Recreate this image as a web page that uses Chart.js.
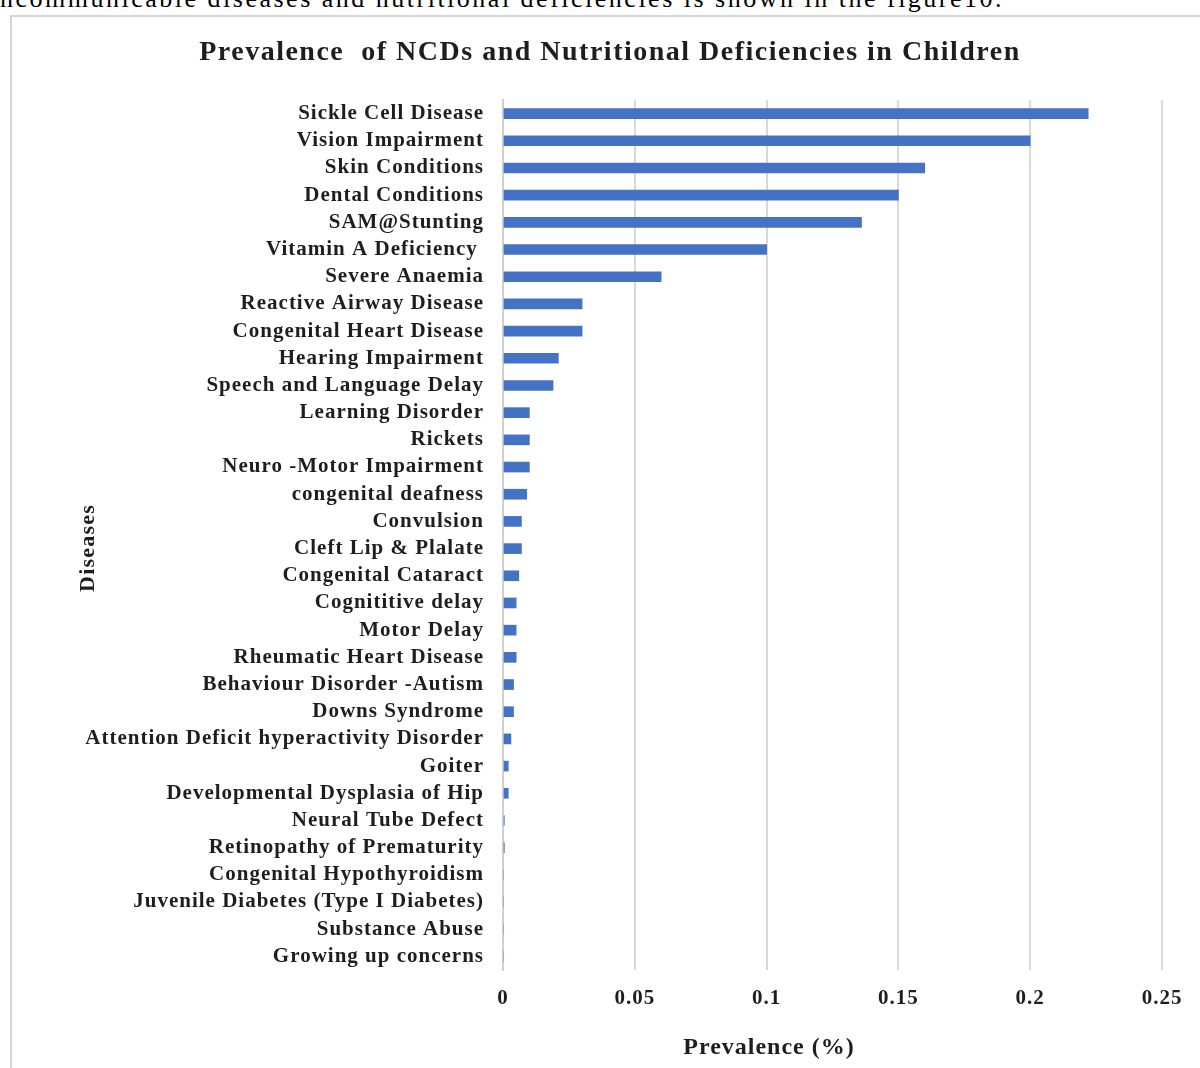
<!DOCTYPE html>
<html>
<head>
<meta charset="utf-8">
<script src="https://cdn.jsdelivr.net/npm/chart.js@4"></script>
<style>
  html, body { margin: 0; padding: 0; background: #fff; overflow: hidden; }
  .lead {
    position: absolute; left: 0; top: -16px; white-space: nowrap;
    font-family: "Liberation Serif", serif; font-size: 26px; color: #000;
    letter-spacing: 2.5px;
  }
  .frame {
    position: absolute; left: 10px; top: 15px; width: 1200px; height: 1060px;
    border-left: 2px solid #d6d6d6; border-top: 2px solid #d6d6d6;
  }
  .wrap { position: absolute; left: 0; top: 0; width: 1200px; height: 1068px; }
</style>
</head>
<body>
<div class="lead">ncommunicable diseases and nutritional deficiencies is shown in the figure10.</div>
<div class="frame"></div>
<div class="wrap"><canvas id="ncdChart"></canvas></div>
<script>
// Diseases, top to bottom
const diseases = [
  "Sickle Cell Disease", "Vision Impairment", "Skin Conditions", "Dental Conditions",
  "SAM@Stunting", "Vitamin A Deficiency ", "Severe Anaemia", "Reactive Airway Disease",
  "Congenital Heart Disease", "Hearing Impairment", "Speech and Language Delay",
  "Learning Disorder", "Rickets", "Neuro -Motor Impairment", "congenital deafness",
  "Convulsion", "Cleft Lip & Plalate", "Congenital Cataract", "Cognititive delay",
  "Motor Delay", "Rheumatic Heart Disease", "Behaviour Disorder -Autism", "Downs Syndrome",
  "Attention Deficit hyperactivity Disorder", "Goiter", "Developmental Dysplasia of Hip",
  "Neural Tube Defect", "Retinopathy of Prematurity", "Congenital Hypothyroidism",
  "Juvenile Diabetes (Type I Diabetes)", "Substance Abuse", "Growing up concerns"
];
const prevalence = [
  0.222, 0.200, 0.160, 0.150,
  0.136, 0.100, 0.060, 0.030,
  0.030, 0.021, 0.019,
  0.010, 0.010, 0.010, 0.009,
  0.007, 0.007, 0.006, 0.005,
  0.005, 0.005, 0.004, 0.004,
  0.003, 0.002, 0.002,
  0.0005, 0.0005, 0,
  0, 0, 0
];
const xTicks = [0, 0.05, 0.1, 0.15, 0.2, 0.25];

const chartTitle = "Prevalence  of NCDs and Nutritional Deficiencies in Children";
const xTitle = "Prevalence (%)";
const yTitle = "Diseases";

const serif = "'Liberation Serif', 'Times New Roman', serif";

// slightly wide lettering for the axis labels
const wideText = {
  id: "wideText",
  beforeDraw(chart) {
    chart.ctx.letterSpacing = "1px";
  }
};

// titles are drawn by hand so they can sit off-centre
const figureText = {
  id: "figureText",
  afterDraw(chart) {
    const ctx = chart.ctx;
    ctx.save();
    ctx.fillStyle = "#1e1e1e";
    ctx.textAlign = "center";
    ctx.textBaseline = "middle";
    ctx.letterSpacing = "1.5px";
    ctx.font = "bold 28px " + serif;
    ctx.fillText(chartTitle, 610, 53);
    ctx.letterSpacing = "1px";
    ctx.font = "bold 24px " + serif;
    ctx.fillText(xTitle, 769, 1048);
    ctx.translate(88, 548);
    ctx.rotate(-Math.PI / 2);
    ctx.letterSpacing = "1.2px";
    ctx.font = "bold 22px " + serif;
    ctx.fillText(yTitle, 0, 0);
    ctx.restore();
  }
};

new Chart(document.getElementById("ncdChart"), {
  type: "bar",
  data: {
    labels: diseases,
    datasets: [{
      data: prevalence,
      backgroundColor: "#4472C4",
      barThickness: 10,
      borderWidth: 0
    }]
  },
  options: {
    indexAxis: "y",
    responsive: true,
    maintainAspectRatio: false,
    animation: false,
    layout: { padding: { top: 100, right: 38, left: 0, bottom: 0 } },
    plugins: {
      legend: { display: false },
      tooltip: { enabled: false }
    },
    scales: {
      x: {
        min: 0,
        max: 0.25,
        afterBuildTicks: (scale) => {
          scale.ticks = xTicks.map((v) => ({ value: v }));
        },
        afterFit: (scale) => { scale.height = 98; },
        grid: { color: "#d9d9d9", lineWidth: 2, drawTicks: false },
        border: { display: false },
        ticks: {
          padding: 16,
          color: "#1e1e1e",
          font: { family: serif, size: 21, weight: "bold" },
          callback: (v) => String(v)
        }
      },
      y: {
        afterFit: (scale) => { scale.width = 503; },
        grid: { display: false, drawTicks: false },
        border: { display: true, color: "#d0d0d0", width: 2 },
        ticks: {
          padding: 19,
          color: "#1e1e1e",
          autoSkip: false,
          font: { family: serif, size: 21, weight: "bold" }
        }
      }
    }
  },
  plugins: [wideText, figureText]
});
</script>
</body>
</html>
